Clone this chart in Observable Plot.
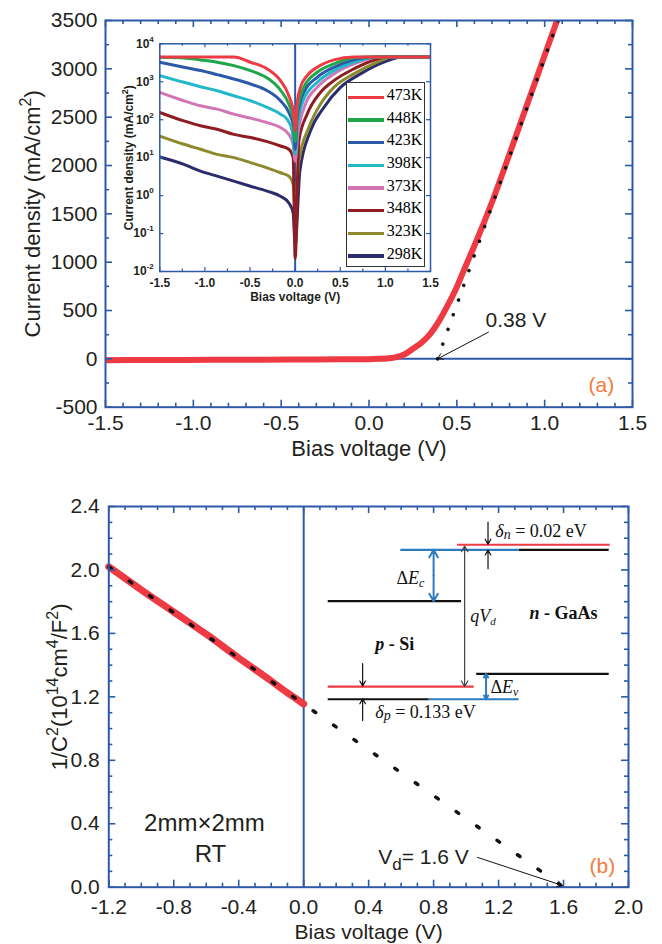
<!DOCTYPE html>
<html><head><meta charset="utf-8">
<script src="https://cdn.jsdelivr.net/npm/d3@7"></script>
<script src="https://cdn.jsdelivr.net/npm/@observablehq/plot@0.6"></script>
<style>
body{margin:0;background:#fff;}
#wrap{position:relative;width:662px;height:944px;overflow:hidden;}
#wrap svg{position:absolute;}
</style></head><body><div id="wrap"></div>
<script>
const blue = "#2c5aa8", red = "#ee3a43", orange = "#f47b3c", ink = "#231f20", lblue = "#2b7cbf";
const sans = '"Liberation Sans", Arial, Helvetica, sans-serif';
const serif = '"Liberation Serif", "Times New Roman", serif';

// ---------- Panel (a): J-V at room temperature ----------
const ivV = [-1.5,-1.2,-0.9,-0.6,-0.3,0,0.06,0.1,0.15,0.2,0.25,0.3,0.35,0.4,0.45,0.5,0.55,0.6,0.7,0.8,0.9,1.0,1.1];
const ivJ = [-14,-12,-10,-8,-6,-3,0,3,15,45,104,170,262,395,560,744,960,1170,1620,2120,2630,3140,3650];
const fitAV = [0.39, 1.1];
const fitAJ = [0, 3621];
const aXTicks = [-1.5,-1.0,-0.5,0,0.5,1.0,1.5];
const aYTicks = [-500,0,500,1000,1500,2000,2500,3000,3500];

// ---------- Inset: log |J| vs V at several temperatures ----------
const temps = ["473K","448K","423K","398K","373K","348K","323K","298K"];
const tempColors = ["#ee3a43","#1fa64a","#2c5aa8","#22b8c9","#d175b7","#8e1d22","#8c8a2c","#2b2d6b"];
const v473 = [-1.5,-0.68,-0.495,-0.31,-0.163,-0.07,-0.015,0,0.022,0.059,0.133,0.244,0.429,0.65,1.5];
const j473 = [4500,4500,3270,2180,1070,428,140,51,258,712,1452,2410,3770,4500,4500];
const v448 = [-1.5,-1.234,-1.049,-0.865,-0.68,-0.495,-0.31,-0.163,-0.07,-0.015,0,0.022,0.096,0.244,0.429,0.65,0.798,1.5];
const j448 = [4440,4255,3767,3270,2665,1970,1260,605,258,93,27,172,712,1778,2950,4255,4500,4500];
const v423 = [-1.5,-1.234,-1.049,-0.865,-0.68,-0.495,-0.31,-0.163,-0.07,-0.015,0,0.022,0.096,0.244,0.429,0.65,0.872,1.5];
const j423 = [3270,2410,1970,1540,1183,873,581,316,155,62,16.6,114,525,1310,2410,3767,4500,4500];
const v398 = [-1.5,-1.234,-1.049,-0.865,-0.68,-0.495,-0.31,-0.163,-0.089,-0.033,0,0.022,0.096,0.244,0.429,0.65,0.872,0.946,1.5];
const j398 = [1452,966,741,581,428,316,210,140,103,51,12.2,62,350,966,1970,3270,4440,4500,4500];
const v373 = [-1.5,-1.234,-1.049,-0.865,-0.68,-0.495,-0.31,-0.163,-0.07,-0.022,0,0.03,0.115,0.244,0.429,0.65,0.909,0.983,1.5];
const j373 = [525,316,233,190,140,110,84,62,41,22.5,8,41,258,712,1610,2950,4440,4500,4500];
const v348 = [-1.5,-1.234,-1.049,-0.865,-0.68,-0.495,-0.31,-0.163,-0.07,-0.022,0,0.041,0.133,0.281,0.429,0.65,0.909,1.02,1.5];
const j348 = [155,93,69,56,41,34,26.5,20.3,16.6,10,0.022,27.5,140,525,1070,2180,3990,4500,4500];
const v323 = [-1.5,-1.234,-1.049,-0.865,-0.68,-0.495,-0.31,-0.163,-0.07,-0.022,0,0.041,0.151,0.281,0.429,0.65,0.909,1.057,1.5];
const j323 = [37,22.5,16.6,12.2,10,7.4,5.4,4.0,3.27,1.96,0.47,8.1,62,258,712,1610,3270,4440,4500];
const v298 = [-1.5,-1.234,-1.049,-0.865,-0.68,-0.495,-0.31,-0.163,-0.07,-0.022,0,0.052,0.17,0.318,0.502,0.724,0.983,1.167,1.5];
const j298 = [10.4,6.65,4.4,3.27,2.4,1.77,1.31,0.96,0.64,0.35,0.05,4.4,51,210,712,1610,3270,4440,4500];
const insetXTicks = [-1.5,-1.0,-0.5,0,0.5,1.0,1.5];
const insetXMinor = [-1.25,-0.75,-0.25,0.25,0.75,1.25];
const insetYTicks = [0.01,0.1,1,10,100,1000,10000];

// ---------- Panel (b): 1/C^2 vs V ----------
const cvV = [-1.2,-1.0,-0.8,-0.6,-0.4,-0.2,-0.1,-0.05,0];
const cvY = [2.02,1.875,1.735,1.595,1.445,1.30,1.225,1.19,1.155];
const fitBV = [-1.2, 1.6];
const fitBY = [2.02, 0.0];
const bXTicks = [-1.2,-0.8,-0.4,0,0.4,0.8,1.2,1.6,2.0];
const bYTicks = [0,0.4,0.8,1.2,1.6,2.0,2.4];

// band diagram schematic (in panel-b units)
const bandLevels = [
  {x1:0.945,x2:1.884,y:2.159,kind:"fermi"},
  {x1:0.595,x2:1.324,y:2.127,kind:"offset"},
  {x1:1.324,x2:1.878,y:2.127,kind:"band"},
  {x1:0.148,x2:0.969,y:1.803,kind:"band"},
  {x1:1.062,x2:1.878,y:1.345,kind:"band"},
  {x1:0.148,x2:1.047,y:1.265,kind:"fermi"},
  {x1:0.148,x2:0.770,y:1.185,kind:"band"},
  {x1:0.770,x2:1.324,y:1.185,kind:"offset"}
];
const bandArrows = [
  {x:0.800,y1:1.803,y2:2.127,kind:"offset",both:true},
  {x:0.991,y1:1.265,y2:2.150,kind:"gap",both:true},
  {x:1.123,y1:1.185,y2:1.345,kind:"offset",both:true},
  {x:1.135,y1:2.301,y2:2.163,kind:"delta",both:false},
  {x:1.135,y1:2.008,y2:2.125,kind:"delta",both:false},
  {x:0.363,y1:1.409,y2:1.269,kind:"delta",both:false},
  {x:0.363,y1:1.051,y2:1.187,kind:"delta",both:false}
];
const bandTexts = [
  {t:"δn = 0.02 eV",x:1.18,y:2.243,w:"normal"},
  {t:"ΔEc",x:0.571,y:1.946,w:"normal"},
  {t:"qVd",x:1.026,y:1.707,w:"normal"},
  {t:"n - GaAs",x:1.39,y:1.726,w:"bold"},
  {t:"p - Si",x:0.441,y:1.530,w:"bold"},
  {t:"ΔEv",x:1.15,y:1.259,w:"normal"},
  {t:"δp = 0.133 eV",x:0.441,y:1.10,w:"normal"}
];
const kindColor = {fermi: red, offset: lblue, band: "#111", gap: "#444", delta: "#111"};

// ---------- helpers ----------
function range10(a, b, step) { const out = []; for (let i = Math.round(a/step); i <= Math.round(b/step); i++) out.push(+(i*step).toFixed(6)); return out; }
function minorOf(a, b, step, major) { return range10(a, b, step).filter(v => !major.some(m => Math.abs(m - v) < 1e-9)); }

function tickMarks(xs, ys, xMaj, xMin, yMaj, yMin, L, l, color, w) {
  const [x0, x1] = xs.range(); const [yb, yt] = ys.range();
  const X = p => xs.invert(p), Y = p => ys.invert(p);
  const m = [];
  for (const [arr, len] of [[xMaj, L], [xMin, l]]) {
    m.push(Plot.ruleX(arr, {x: d => d, y1: Y(yb), y2: Y(yb - len), stroke: color, strokeWidth: w}));
    m.push(Plot.ruleX(arr, {x: d => d, y1: Y(yt), y2: Y(yt + len), stroke: color, strokeWidth: w}));
  }
  for (const [arr, len] of [[yMaj, L], [yMin, l]]) {
    m.push(Plot.ruleY(arr, {y: d => d, x1: X(x0), x2: X(x0 + len), stroke: color, strokeWidth: w}));
    m.push(Plot.ruleY(arr, {y: d => d, x1: X(x1), x2: X(x1 - len), stroke: color, strokeWidth: w}));
  }
  return m;
}
function rich(svg, map) {
  d3.select(svg).selectAll("text").each(function() {
    const t = this.textContent;
    if (Object.prototype.hasOwnProperty.call(map, t)) this.innerHTML = map[t];
  });
}
const wrap = document.getElementById("wrap");

// ---------- Panel (a) ----------
const A = {W: 662, H: 460, l: 105, r: 632, t: 20, b: 406.7};
const xA = d3.scaleLinear([-1.5, 1.5], [A.l, A.r]);
const yA = d3.scaleLinear([-500, 3500], [A.b, A.t]);
const ivData = ivV.map((v, i) => ({V: v, J: ivJ[i]}));
const fitA = fitAV.map((v, i) => ({V: v, J: fitAJ[i]}));
const plotA = Plot.plot({
  width: A.W, height: A.H, marginLeft: A.l, marginRight: A.W - A.r, marginTop: A.t, marginBottom: A.H - A.b,
  x: {domain: [-1.5, 1.5], label: null}, y: {domain: [-500, 3500], label: null},
  style: {fontFamily: sans, fontSize: "21px", color: ink, background: "transparent", overflow: "visible"},
  marks: [
    Plot.ruleY([0], {stroke: blue, strokeWidth: 2}),
    Plot.line(ivData, {x: "V", y: "J", stroke: red, strokeWidth: 6, curve: "monotone-x", clip: true}),
    Plot.line(fitA, {x: "V", y: "J", stroke: "#111", strokeWidth: 3.5, strokeDasharray: "0.1,15.5", strokeLinecap: "round", clip: true}),
    ...tickMarks(xA, yA, aXTicks, minorOf(-1.5, 1.5, 0.1, aXTicks), aYTicks, minorOf(-500, 3500, 250, aYTicks), 7, 4, blue, 1.6),
    Plot.frame({stroke: blue, strokeWidth: 2}),
    Plot.axisX(aXTicks, {tickSize: 0, tickPadding: 8, tickFormat: d => d.toFixed(1), label: null}),
    Plot.axisY(aYTicks, {tickSize: 0, tickPadding: 8, tickFormat: d => String(d), label: null}),
    Plot.text(["Bias voltage (V)"], {text: d => d, frameAnchor: "bottom", lineAnchor: "middle", textAnchor: "middle", dy: 42, fontSize: 22}),
    Plot.text(["Current density (mA/cm2)"], {text: d => d, frameAnchor: "left", textAnchor: "middle", lineAnchor: "middle", dx: -73, rotate: -90, fontSize: 22}),
    Plot.arrow([{}], {x1: 0.68, y1: 276, x2: 0.39, y2: 0, stroke: "#111", strokeWidth: 1, headLength: 9}),
    Plot.text(["0.38 V"], {text: d => d, x: 0.663, y: 397, textAnchor: "start", fontSize: 21}),
    Plot.text(["(a)"], {text: d => d, x: 1.323, y: -275, fill: orange, fontSize: 21})
  ]
});
plotA.style.left = "0px"; plotA.style.top = "0px";
rich(plotA, {"Current density (mA/cm2)": 'Current density (mA/cm<tspan dy="-9" font-size="16">2</tspan><tspan dy="9">)</tspan>'});
wrap.appendChild(plotA);

// ---------- Inset ----------
const I = {left: 100, top: 30, W: 340, H: 280, l: 159.3, r: 430, t: 43.3, b: 271};
const xI = d3.scaleLinear([-1.5, 1.5], [I.l - I.left, I.r - I.left]);
const yI = d3.scaleLog([0.01, 10000], [I.b - I.top, I.t - I.top]);
const series = {"473K": [v473, j473], "448K": [v448, j448], "423K": [v423, j423], "398K": [v398, j398],
  "373K": [v373, j373], "348K": [v348, j348], "323K": [v323, j323], "298K": [v298, j298]};
const insetData = temps.slice().reverse().flatMap(T => series[T][0].map((v, i) => ({T, V: v, J: series[T][1][i]})));
const plotI = Plot.plot({
  width: I.W, height: I.H, marginLeft: I.l - I.left, marginRight: I.left + I.W - I.r, marginTop: I.t - I.top, marginBottom: I.top + I.H - I.b,
  x: {domain: [-1.5, 1.5], label: null}, y: {type: "log", domain: [0.01, 10000], label: null},
  color: {domain: temps, range: tempColors},
  style: {fontFamily: sans, fontSize: "12px", fontWeight: "bold", color: ink, background: "transparent", overflow: "visible"},
  marks: [
    Plot.ruleX([0], {stroke: blue, strokeWidth: 2}),
    Plot.line(insetData, {x: "V", y: "J", z: "T", stroke: "T", strokeWidth: 3, curve: "monotone-x", clip: true}),
    ...tickMarks(xI, yI, insetXTicks, insetXMinor, insetYTicks, [], 4, 2.5, blue, 1.2),
    Plot.frame({stroke: blue, strokeWidth: 1.5}),
    Plot.axisX(insetXTicks, {tickSize: 0, tickPadding: 7, tickFormat: d => d.toFixed(1), label: null}),
    Plot.axisY(insetYTicks, {tickSize: 0, tickPadding: 6, tickFormat: d => "10^" + Math.round(Math.log10(d)), label: null}),
    Plot.text(["Bias voltage (V)"], {text: d => d, frameAnchor: "bottom", lineAnchor: "middle", textAnchor: "middle", dy: 26, fontSize: 12}),
    Plot.text(["Current density (mA/cm2)"], {text: d => d, frameAnchor: "left", textAnchor: "middle", lineAnchor: "middle", dx: -31, rotate: -90, fontSize: 12})
  ]
});
plotI.style.left = I.left + "px"; plotI.style.top = I.top + "px";
const insetRich = {"Current density (mA/cm2)": 'Current density (mA/cm<tspan dy="-5" font-size="9">2</tspan><tspan dy="5">)</tspan>'};
insetYTicks.forEach(d => { const k = Math.round(Math.log10(d)); insetRich["10^" + k] = '10<tspan dy="-6" font-size="8">' + k + '</tspan>'; });
rich(plotI, insetRich);
wrap.appendChild(plotI);

// inset legend
const leg = document.createElement("div");
leg.style.cssText = "position:absolute;left:345.7px;top:81.7px;width:79.3px;height:185px;box-sizing:border-box;border:1px solid #333;background:#fff;";
temps.forEach((t, i) => {
  const row = document.createElement("div");
  row.style.cssText = `position:absolute;left:0;top:${3.3 + i * 22.67}px;height:22.67px;width:100%;`;
  row.innerHTML = `<span style="position:absolute;left:1px;top:9.7px;width:36.7px;height:3.4px;background:${tempColors[i]}"></span>` +
    `<span style="position:absolute;left:40px;top:0;font:15px ${sans};line-height:22.67px;color:${ink}">${t}</span>`;
  leg.appendChild(row);
});
wrap.appendChild(leg);

// ---------- Panel (b) ----------
const B = {top: 460, W: 662, H: 484, l: 108.3, r: 628, t: 506, b: 886.7};
const xB = d3.scaleLinear([-1.2, 2.0], [B.l, B.r]);
const yB = d3.scaleLinear([0, 2.4], [B.b - B.top, B.t - B.top]);
const cvData = cvV.map((v, i) => ({V: v, Y: cvY[i]}));
const fitB = fitBV.map((v, i) => ({V: v, Y: fitBY[i]}));
const arrowSegs = bandArrows.flatMap(a => {
  if (!a.both) return [{x: a.x, from: a.y1, to: a.y2, kind: a.kind}];
  const mid = (a.y1 + a.y2) / 2;
  return [{x: a.x, from: mid, to: a.y1, kind: a.kind}, {x: a.x, from: mid, to: a.y2, kind: a.kind}];
});
const bandMarks = [];
for (const k of ["band", "offset", "fermi"]) {
  bandMarks.push(Plot.link(bandLevels.filter(d => d.kind === k), {x1: "x1", x2: "x2", y1: "y", y2: "y", stroke: kindColor[k], strokeWidth: 2.2}));
}
for (const k of ["offset", "gap", "delta"]) {
  bandMarks.push(Plot.arrow(arrowSegs.filter(d => d.kind === k), {x1: "x", x2: "x", y1: "from", y2: "to", stroke: kindColor[k],
    strokeWidth: k === "offset" ? 2 : 1.2, headLength: k === "gap" ? 8 : 7}));
}
for (const w of ["normal", "bold"]) {
  bandMarks.push(Plot.text(bandTexts.filter(d => d.w === w), {x: "x", y: "y", text: "t", textAnchor: "start", fontFamily: serif, fontSize: 18, fontWeight: w, fill: "#111"}));
}
const plotB = Plot.plot({
  width: B.W, height: B.H, marginLeft: B.l, marginRight: B.W - B.r, marginTop: B.t - B.top, marginBottom: B.top + B.H - B.b,
  x: {domain: [-1.2, 2.0], label: null}, y: {domain: [0, 2.4], label: null},
  style: {fontFamily: sans, fontSize: "21px", color: ink, background: "transparent", overflow: "visible"},
  marks: [
    Plot.ruleX([0], {stroke: blue, strokeWidth: 2}),
    Plot.line(cvData, {x: "V", y: "Y", stroke: red, strokeWidth: 7, curve: "monotone-x"}),
    Plot.line(fitB, {x: "V", y: "Y", stroke: "#111", strokeWidth: 3.5, strokeDasharray: "3,22", strokeLinecap: "round"}),
    ...bandMarks,
    ...tickMarks(xB, yB, bXTicks, minorOf(-1.2, 2.0, 0.1, bXTicks), bYTicks, minorOf(0, 2.4, 0.1, bYTicks), 7, 4, blue, 1.6),
    Plot.frame({stroke: blue, strokeWidth: 2}),
    Plot.axisX(bXTicks, {tickSize: 0, tickPadding: 12, tickFormat: d => d.toFixed(1), label: null}),
    Plot.axisY(bYTicks, {tickSize: 0, tickPadding: 9, tickFormat: d => d.toFixed(1), label: null}),
    Plot.text(["Bias voltage (V)"], {text: d => d, frameAnchor: "bottom", lineAnchor: "middle", textAnchor: "middle", dy: 45, fontSize: 21}),
    Plot.text(["1/C2(1014cm4/F2)"], {text: d => d, frameAnchor: "left", textAnchor: "middle", lineAnchor: "middle", dx: -49, dy: -10, rotate: -90, fontSize: 22}),
    Plot.text(["2mm×2mm"], {text: d => d, x: -0.611, y: 0.40, fontSize: 24}),
    Plot.text(["RT"], {text: d => d, x: -0.574, y: 0.205, fontSize: 24}),
    Plot.arrow([{}], {x1: 1.07, y1: 0.188, x2: 1.593, y2: 0.011, stroke: "#111", strokeWidth: 1, headLength: 9}),
    Plot.text(["Vd= 1.6 V"], {text: d => d, x: 0.459, y: 0.188, textAnchor: "start", fontSize: 21}),
    Plot.text(["(b)"], {text: d => d, x: 1.839, y: 0.13, fill: orange, fontSize: 21})
  ]
});
plotB.style.left = "0px"; plotB.style.top = B.top + "px";
rich(plotB, {
  "1/C2(1014cm4/F2)": '1/C<tspan dy="-9" font-size="16">2</tspan><tspan dy="9">(10</tspan><tspan dy="-9" font-size="16">14</tspan><tspan dy="9">cm</tspan><tspan dy="-9" font-size="16">4</tspan><tspan dy="9">/F</tspan><tspan dy="-9" font-size="16">2</tspan><tspan dy="9">)</tspan>',
  "Vd= 1.6 V": 'V<tspan font-size="17" dy="6">d</tspan><tspan dy="-6">= 1.6 V</tspan>',
  "δn = 0.02 eV": '<tspan font-style="italic">δ</tspan><tspan font-style="italic" font-size="14" dy="2">n</tspan><tspan dy="-2"> = 0.02 eV</tspan>',
  "δp = 0.133 eV": '<tspan font-style="italic">δ</tspan><tspan font-style="italic" font-size="14" dy="2">p</tspan><tspan dy="-2"> = 0.133 eV</tspan>',
  "ΔEc": 'Δ<tspan font-style="italic">E</tspan><tspan font-style="italic" font-size="12" dy="3">c</tspan>',
  "ΔEv": 'Δ<tspan font-style="italic">E</tspan><tspan font-style="italic" font-size="12" dy="3">v</tspan>',
  "qVd": '<tspan font-style="italic">qV</tspan><tspan font-style="italic" font-size="11" dy="3">d</tspan>',
  "n - GaAs": '<tspan font-style="italic">n</tspan> - GaAs',
  "p - Si": '<tspan font-style="italic">p</tspan> - Si'
});
wrap.appendChild(plotB);
</script></body></html>
